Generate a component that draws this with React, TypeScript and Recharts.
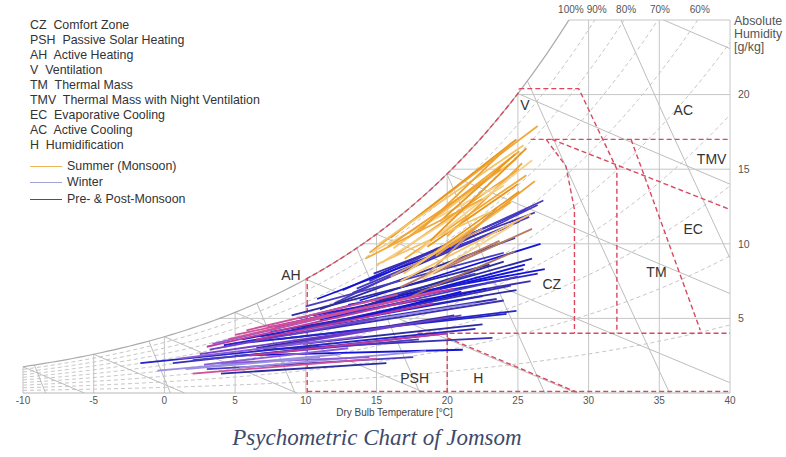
import React from 'react';
import { ComposedChart, Line, Scatter, XAxis, YAxis } from 'recharts';

// sea-level psychrometrics, kPa
const P_ATM = 101.325;

const TEMP_TICKS = [-10, -5, 0, 5, 10, 15, 20, 25, 30, 35, 40];
const HUMIDITY_TICKS = [5, 10, 15, 20];
const HUMIDITY_GRID = [5, 10, 15, 20, 25];
const RH_LEVELS = [0.1, 0.2, 0.3, 0.4, 0.5, 0.6, 0.7, 0.8, 0.9];
const RH_LABELS = [1.0, 0.9, 0.8, 0.7, 0.6];
const ENTHALPY_SAT_TEMPS = [-10, -5, 0, 5, 10, 15, 20, 25, 30];
const VOLUME_LEVELS = [0.75, 0.775, 0.8, 0.825, 0.85, 0.875, 0.9];
const CURVE_T = Array.from({ length: 101 }, (_, i) => -10 + i * 0.5);

// bioclimatic zone boundaries [t, w]
const ZONE_BOUNDARIES: [number, number][][] = [
  [[10.1, 0], [10.1, 7.7]],
  [[25.1, 20.4], [29.3, 20.4], [32, 15], [32, 4]],
  [[25.9, 17], [40, 17]],
  [[27, 17], [28.4, 15.2], [29, 12.3], [29, 4]],
  [[33, 17], [34, 14.4], [37.9, 4.2]],
  [[27.4, 17], [40, 12.3]],
  [[17.9, 4], [40, 4]],
  [[20, 0], [20, 4]],
  [[20, 3.7], [29.3, 0]],
  [[10.1, 0.1], [40, 0.1]],
];

const ZONE_LABELS = [
  { text: 'V', t: 25.5, w: 19.3 },
  { text: 'AC', t: 36.7, w: 19 },
  { text: 'TMV', t: 38.7, w: 15.7 },
  { text: 'EC', t: 37.4, w: 11 },
  { text: 'TM', t: 34.8, w: 8.1 },
  { text: 'CZ', t: 27.4, w: 7.3 },
  { text: 'AH', t: 8.95, w: 7.9 },
  { text: 'PSH', t: 17.7, w: 1.0 },
  { text: 'H', t: 22.2, w: 1.0 },
];

const ZONE_NAMES = [
  ['CZ', 'Comfort Zone'],
  ['PSH', 'Passive Solar Heating'],
  ['AH', 'Active Heating'],
  ['V', 'Ventilation'],
  ['TM', 'Thermal Mass'],
  ['TMV', 'Thermal Mass with Night Ventilation'],
  ['EC', 'Evaporative Cooling'],
  ['AC', 'Active Cooling'],
  ['H', 'Humidification'],
];

// daily lines: [tMin, wAtMin, tMax, wAtMax]
const summerDays = [
  [14.5, 9.4, 26.4, 17.9],
  [16.0, 10.4, 24.9, 17.0],
  [16.2, 9.7, 24.9, 15.7],
  [16.4, 9.3, 25.1, 15.0],
  [14.8, 9.5, 24.2, 14.2],
  [17.2, 10.4, 25.1, 16.2],
  [17.6, 8.4, 25.1, 13.5],
  [15.2, 10.0, 25.4, 16.6],
  [18.0, 10.8, 24.6, 16.8],
  [15.6, 8.9, 24.0, 13.9],
  [17.0, 9.0, 25.6, 14.6],
  [18.6, 9.8, 25.0, 14.0],
  [16.7, 7.5, 25.9, 12.0],
  [19.2, 9.2, 24.5, 12.8],
  [18.2, 7.6, 24.7, 11.3],
  [20.0, 10.5, 25.3, 15.4],
  [19.5, 11.5, 24.8, 16.0],
  [15.0, 8.6, 23.2, 12.2],
  [15.8, 9.8, 23.8, 15.0],
  [17.8, 9.4, 26.0, 15.6],
  [14.2, 9.0, 22.5, 13.0],
  [18.8, 10.2, 25.6, 16.4],
  [16.9, 8.0, 24.0, 12.4],
  [20.2, 9.8, 26.2, 14.2],
];

const transitionDays = [
  [16.7, 7.1, 23.7, 10.2],
  [18.3, 7.7, 23.5, 12.4],
  [17.5, 6.5, 24.8, 9.5],
  [19.0, 8.0, 26.0, 11.0],
  [16.0, 7.8, 22.5, 11.0],
];

const shoulderDays = [
  [12.6, 6.9, 25.6, 12.3],
  [13.3, 6.7, 25.1, 11.5],
  [13.8, 6.2, 26.6, 10.0],
  [12.0, 6.0, 26.4, 12.6],
  [11.0, 5.6, 24.8, 10.4],
  [10.5, 5.2, 26.4, 8.0],
  [9.5, 4.8, 25.9, 7.5],
  [8.5, 4.6, 25.4, 8.3],
  [10.0, 5.8, 24.0, 9.4],
  [7.5, 4.1, 24.9, 6.9],
  [8.0, 3.6, 24.9, 5.5],
  [6.8, 3.8, 23.5, 6.3],
  [9.0, 4.2, 22.8, 7.0],
  [11.5, 5.0, 25.0, 7.8],
  [12.5, 5.4, 26.0, 9.0],
  [6.0, 3.4, 24.2, 5.3],
  [7.0, 2.9, 23.2, 3.7],
  [5.0, 2.5, 21.1, 2.9],
  [3.0, 1.6, 17.6, 2.4],
  [4.0, 1.3, 15.7, 2.0],
  [-1.7, 2.0, 22.0, 4.3],
  [0.6, 2.0, 20.0, 4.0],
  [13.0, 5.9, 26.9, 8.3],
  [14.5, 7.5, 26.8, 12.9],
  [9.0, 5.2, 23.0, 8.6],
  [5.5, 3.6, 22.5, 6.5],
  [10.0, 4.4, 24.5, 7.2],
  [11.0, 4.9, 25.5, 8.6],
  [9.5, 5.0, 22.0, 8.0],
  [12.0, 5.2, 24.0, 8.8],
  [7.8, 4.4, 21.5, 7.4],
  [8.8, 3.9, 24.0, 6.2],
  [10.8, 6.3, 24.5, 11.2],
  [13.6, 7.0, 25.8, 11.8],
  [6.5, 3.0, 20.5, 5.2],
  [4.2, 3.2, 19.0, 5.6],
  [14.8, 8.0, 26.2, 12.1],
  [11.8, 4.6, 21.0, 6.8],
  [2.0, 2.2, 18.0, 3.6],
  [9.8, 3.3, 22.5, 4.6],
];

const winterDays = [
  [3.0, 3.1, 18.0, 6.3],
  [3.4, 3.3, 16.5, 6.2],
  [2.0, 1.3, 15.0, 2.3],
  [5.3, 1.7, 18.5, 2.8],
  [7.7, 3.1, 21.0, 5.2],
  [7.3, 4.4, 20.5, 7.0],
  [1.0, 2.3, 14.0, 3.8],
  [4.5, 3.6, 19.5, 6.9],
  [-0.5, 1.5, 12.5, 2.6],
  [2.5, 2.6, 17.0, 4.6],
  [6.0, 2.5, 20.0, 4.0],
  [4.0, 2.0, 14.5, 2.4],
  [5.0, 3.9, 17.5, 6.4],
  [8.5, 4.0, 22.0, 6.0],
  [3.2, 2.9, 15.0, 5.0],
  [6.5, 3.6, 19.0, 6.0],
  [2.8, 1.9, 13.0, 3.0],
  [5.8, 4.2, 16.5, 6.6],
  [1.5, 1.6, 11.0, 2.4],
];

const SUMMER_COLORS = ['#f2a93b', '#e8961c', '#f5c46a', '#eea030', '#f7d08a'];
const TRANSITION_COLORS = ['#b77a62', '#c99870', '#a9705f'];
const SHOULDER_COLORS = ['#2424c8', '#3a30b0', '#1414d8', '#4a3cc0', '#2c2ca0'];
const WINTER_COLORS = ['#c23a9a', '#8a5ad8', '#d0509a', '#9a90e0', '#7040c8'];

const GRID = '#c6c6c6';
const ZONE_RED = '#d9485f';
const FONT = '"Liberation Sans", Arial, sans-serif';

const satPressure = (t: number) => 0.61078 * Math.exp((17.27 * t) / (t + 237.3));
const humidityRatio = (t: number, rh: number) => {
  const p = rh * satPressure(t);
  return (622 * p) / (P_ATM - p);
};
const enthalpy = (t: number, w: number) => 1.006 * t + (w / 1000) * (2501 + 1.86 * t);
const wAtEnthalpy = (h: number, t: number) => ((h - 1.006 * t) * 1000) / (2501 + 1.86 * t);
const wAtVolume = (v: number, t: number) =>
  (((v * P_ATM) / (0.287042 * (t + 273.15)) - 1) / 1.6078) * 1000;

const solve = (f: (t: number) => number, lo: number, hi: number) => {
  let a = lo;
  let b = hi;
  for (let i = 0; i < 60; i++) {
    const m = (a + b) / 2;
    if (f(a) * f(m) <= 0) b = m;
    else a = m;
  }
  return (a + b) / 2;
};
const tAtRatio = (w: number, rh: number) => solve((t) => humidityRatio(t, rh) - w, -20, 60);

const pt = (t: number, w: number) => ({ t, w });

const verticalGrid = TEMP_TICKS.map((t) => [pt(t, 0), pt(t, Math.min(humidityRatio(t, 1), 25))]);
const horizontalGrid = HUMIDITY_GRID.map((w) => [pt(tAtRatio(w, 1), w), pt(40, w)]);
const satCurve = CURVE_T.map((t) => pt(t, humidityRatio(t, 1)));
const rhCurves = RH_LEVELS.map((rh) => CURVE_T.map((t) => pt(t, humidityRatio(t, rh))));

const enthalpyLines = ENTHALPY_SAT_TEMPS.map((t0) => {
  const h = enthalpy(t0, humidityRatio(t0, 1));
  const tEnd = Math.min(40, h / 1.006);
  const tMid = (t0 + tEnd) / 2;
  return [t0, tMid, tEnd].map((t) => pt(t, wAtEnthalpy(h, t)));
});

const volumeLines = VOLUME_LEVELS.map((v) => {
  const tZero = (v * P_ATM) / 0.287042 - 273.15;
  const tEnd = Math.min(40, tZero);
  const tStart = solve((t) => wAtVolume(v, t) - humidityRatio(t, 1), -10, tEnd);
  const tMid = (tStart + tEnd) / 2;
  return [tStart, tMid, tEnd].map((t) => pt(t, wAtVolume(v, t)));
});

const zoneLines = [
  [...satCurve.filter((p) => p.t >= 10 && p.t <= 25), pt(25.1, 20.4)],
  ...ZONE_BOUNDARIES.map((b) => b.map(([t, w]) => pt(t, w))),
];

const rhLabels = RH_LABELS.map((rh) => ({
  t: tAtRatio(25, rh),
  w: 25,
  text: `${Math.round(rh * 100)}%`,
}));

const toSegment = (d: number[]) => [pt(d[0], d[1]), pt(d[2], d[3])];

const seriesGroups = [
  { days: shoulderDays, colors: SHOULDER_COLORS },
  { days: winterDays, colors: WINTER_COLORS },
  { days: transitionDays, colors: TRANSITION_COLORS },
  { days: summerDays, colors: SUMMER_COLORS },
];

const renderLine = (
  key: string,
  data: { t: number; w: number }[],
  stroke: string,
  width = 1,
  dash?: string,
  axisId?: string
) => (
  <Line
    key={key}
    data={data}
    dataKey="w"
    type="linear"
    stroke={stroke}
    strokeWidth={width}
    strokeDasharray={dash}
    dot={false}
    activeDot={false}
    legendType="none"
    isAnimationActive={false}
    xAxisId={axisId ?? 0}
    yAxisId={axisId ?? 0}
  />
);

const ZoneLabel = (props: any) => (
  <text
    x={props.cx}
    y={props.cy}
    textAnchor="middle"
    dominantBaseline="central"
    fontSize={14}
    fontFamily={FONT}
    fill="#333"
  >
    {props.payload.text}
  </text>
);

const RhLabel = (props: any) => (
  <text x={props.cx + 2} y={props.cy - 7} textAnchor="middle" fontSize={10} fontFamily={FONT} fill="#555">
    {props.payload.text}
  </text>
);

const AxisTitle = (props: any) => {
  const vb = props.viewBox;
  return (
    <text x={vb.x + vb.width / 2 + 18} y={vb.y + 23} textAnchor="middle" fontSize={10} fontFamily={FONT} fill="#444">
      Dry Bulb Temperature [°C]
    </text>
  );
};

const SEASON_LEGEND = [
  { label: 'Summer (Monsoon)', color: '#f0b454', top: 159 },
  { label: 'Winter', color: '#a4a4d6', top: 175 },
  { label: 'Pre- & Post-Monsoon', color: '#4848a8', top: 192 },
];

const LEGEND_FONT = `12.4px ${FONT}`;

export default function App() {
  return (
    <div
      style={{
        position: 'absolute',
        left: 0,
        top: 0,
        width: 786,
        height: 457,
        overflow: 'hidden',
        background: '#fff',
      }}
    >
      <ComposedChart width={786} height={457} margin={{ top: 20, right: 0, bottom: 40, left: 23 }}>
        <XAxis
          dataKey="t"
          type="number"
          domain={[-10, 40]}
          allowDataOverflow
          ticks={TEMP_TICKS}
          interval={0}
          height={24}
          tickLine={false}
          tickSize={2}
          tickMargin={2}
          axisLine={{ stroke: '#b8b8b8' }}
          tick={{ fontSize: 10, fill: '#555', fontFamily: FONT }}
          label={<AxisTitle />}
        />
        <YAxis
          dataKey="w"
          type="number"
          orientation="right"
          domain={[0, 25]}
          allowDataOverflow
          ticks={HUMIDITY_TICKS}
          width={56}
          tickLine={false}
          axisLine={false}
          tick={{ fontSize: 10.5, fill: '#555', fontFamily: FONT }}
        />
        <XAxis xAxisId="lbl" dataKey="t" type="number" domain={[-10, 40]} hide />
        <YAxis yAxisId="lbl" dataKey="w" type="number" domain={[0, 25]} hide />

        {rhCurves.map((c, i) => renderLine(`rh${i}`, c, GRID, 1, '4 3'))}
        {enthalpyLines.map((c, i) => renderLine(`h${i}`, c, '#bdbdbd'))}
        {volumeLines.map((c, i) => renderLine(`v${i}`, c, '#bdbdbd'))}
        {verticalGrid.map((c, i) => renderLine(`vg${i}`, c, GRID, 1, undefined, 'lbl'))}
        {horizontalGrid.map((c, i) => renderLine(`hg${i}`, c, GRID, 1, undefined, 'lbl'))}
        {renderLine('sat', satCurve, '#aaaaaa', 1.2)}
        {zoneLines.map((c, i) => renderLine(`z${i}`, c, ZONE_RED, 1.4, '5 3'))}

        {seriesGroups.flatMap((g, gi) =>
          g.days.map((d, i) => renderLine(`d${gi}-${i}`, toSegment(d), g.colors[i % g.colors.length], 1.8))
        )}

        <Scatter
          data={ZONE_LABELS}
          xAxisId="lbl"
          yAxisId="lbl"
          shape={ZoneLabel}
          legendType="none"
          isAnimationActive={false}
        />
        <Scatter
          data={rhLabels}
          xAxisId="lbl"
          yAxisId="lbl"
          shape={RhLabel}
          legendType="none"
          isAnimationActive={false}
        />
      </ComposedChart>

      <div
        style={{
          position: 'absolute',
          left: 734,
          top: 15,
          font: `12.4px ${FONT}`,
          lineHeight: '13px',
          color: '#555',
          whiteSpace: 'nowrap',
        }}
      >
        <div>Absolute</div>
        <div>Humidity</div>
        <div>[g/kg]</div>
      </div>

      <div
        style={{
          position: 'absolute',
          left: 30,
          top: 18,
          font: LEGEND_FONT,
          lineHeight: '15px',
          color: '#333',
          whiteSpace: 'nowrap',
        }}
      >
        {ZONE_NAMES.map(([abbr, name]) => (
          <div key={abbr}>
            {abbr}&nbsp; {name}
          </div>
        ))}
      </div>
      {SEASON_LEGEND.map((s) => (
        <div
          key={s.label}
          style={{
            position: 'absolute',
            left: 30,
            top: s.top,
            display: 'flex',
            alignItems: 'center',
            font: LEGEND_FONT,
            color: '#333',
            whiteSpace: 'nowrap',
          }}
        >
          <span style={{ display: 'inline-block', width: 32, height: 0, borderTop: `1.5px solid ${s.color}`, marginRight: 5 }} />
          {s.label}
        </div>
      ))}

      <div
        style={{
          position: 'absolute',
          left: 0,
          width: 754,
          top: 425,
          textAlign: 'center',
          font: `italic 23px "Liberation Serif", "Times New Roman", serif`,
          color: '#3d4a6b',
        }}
      >
        Psychometric Chart of Jomsom
      </div>
    </div>
  );
}
